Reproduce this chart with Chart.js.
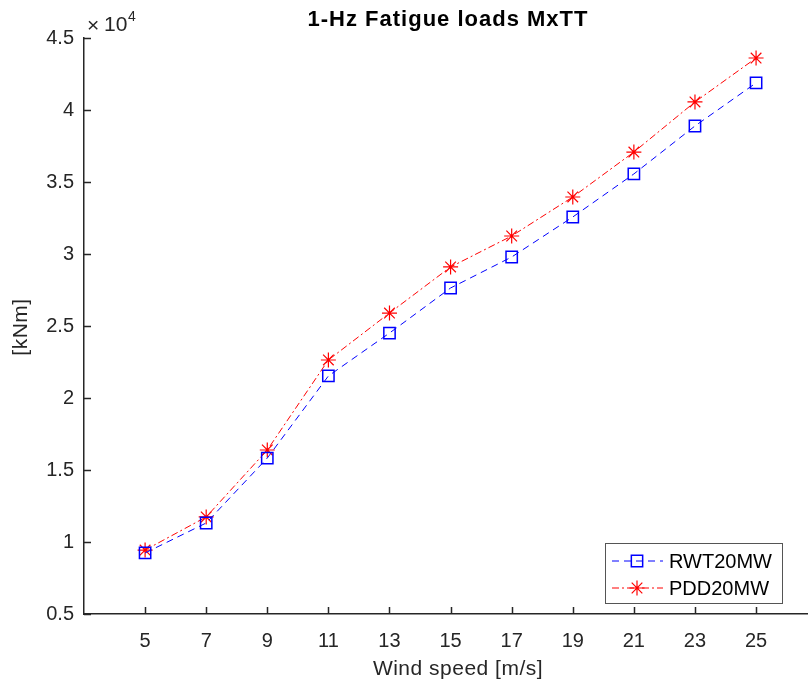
<!DOCTYPE html>
<html>
<head>
<meta charset="utf-8">
<script src="https://cdn.jsdelivr.net/npm/chart.js@4.4.0/dist/chart.umd.min.js"></script>
<style>
  html, body { margin: 0; padding: 0; background: #fff; }
</style>
</head>
<body>
<canvas id="chart" width="808" height="689"></canvas>
<script>
// ============================================================
// DATA
// ============================================================
const windSpeeds = [5, 7, 9, 11, 13, 15, 17, 19, 21, 23, 25];
const rwt20mw = [9240, 11320, 15830, 21530, 24510, 27640, 29790, 32570, 35560, 38890, 41880];
const pdd20mw = [9440, 11740, 16390, 22640, 25900, 29100, 31250, 33960, 37080, 40560, 43610];
const xTicks = [5, 7, 9, 11, 13, 15, 17, 19, 21, 23, 25];
const yTicks = [5000, 10000, 15000, 20000, 25000, 30000, 35000, 40000, 45000];
const yTickLabels = ['0.5', '1', '1.5', '2', '2.5', '3', '3.5', '4', '4.5'];

const FONT = "'Liberation Sans', Arial, Helvetica, sans-serif";
const AXIS = '#262626';

function toPoints(values) {
    return windSpeeds.map((w, i) => ({ x: w, y: values[i] }));
}

// ============================================================
// PLUGIN: inner ticks, texts, legend
// ============================================================
const decorPlugin = {
    id: 'decor',
    afterDraw(chart) {
        const ctx = chart.ctx;
        const xs = chart.scales.x;
        const ys = chart.scales.y;
        const area = chart.chartArea;

        // inner tick marks
        ctx.save();
        ctx.strokeStyle = AXIS;
        ctx.lineWidth = 1.5;
        ctx.beginPath();
        xTicks.forEach(v => {
            const px = Math.round(xs.getPixelForValue(v)) + 0.5;
            ctx.moveTo(px, area.bottom);
            ctx.lineTo(px, area.bottom - 7);
        });
        yTicks.forEach(v => {
            const py = Math.round(ys.getPixelForValue(v)) + 0.5;
            ctx.moveTo(area.left, py);
            ctx.lineTo(area.left + 7, py);
        });
        ctx.stroke();

        // title
        ctx.fillStyle = '#000';
        ctx.textAlign = 'center';
        ctx.textBaseline = 'middle';
        ctx.letterSpacing = '1px';
        ctx.font = 'bold 22px ' + FONT;
        ctx.fillText('1-Hz Fatigue loads MxTT', 448, 20);

        // axis titles
        ctx.fillStyle = AXIS;
        ctx.letterSpacing = '0.5px';
        ctx.font = '21px ' + FONT;
        ctx.fillText('Wind speed [m/s]', 458, 669);
        ctx.save();
        ctx.translate(21, 327);
        ctx.rotate(-Math.PI / 2);
        ctx.fillText('[kNm]', 0, 0);
        ctx.restore();
        ctx.letterSpacing = '0px';

        // exponent label
        ctx.textAlign = 'left';
        ctx.font = '21px ' + FONT;
        ctx.fillText('\u00d7', 87, 26);
        ctx.fillText('10', 104, 25);
        ctx.font = '14px ' + FONT;
        ctx.fillText('4', 128, 17);

        // legend
        const bx = 605, by = 543, bw = 177, bh = 60;
        ctx.fillStyle = '#fff';
        ctx.fillRect(bx, by, bw, bh);
        ctx.strokeStyle = '#555';
        ctx.lineWidth = 1;
        ctx.strokeRect(bx + 0.5, by + 0.5, bw, bh);

        chart.data.datasets.forEach((ds, i) => {
            const cy = by + 18 + i * 27;
            ctx.save();
            ctx.strokeStyle = ds.borderColor;
            ctx.lineWidth = ds.borderWidth;
            ctx.setLineDash(ds.borderDash);
            ctx.beginPath();
            ctx.moveTo(bx + 7, cy);
            ctx.lineTo(bx + 58, cy);
            ctx.stroke();
            ctx.setLineDash([]);
            ctx.lineWidth = ds.pointBorderWidth;
            ctx.fillStyle = 'rgba(0,0,0,0)';
            Chart.helpers.drawPoint(ctx, {
                pointStyle: ds.pointStyle,
                radius: ds.pointRadius,
                rotation: 0,
                borderWidth: ds.pointBorderWidth
            }, bx + 32, cy);
            ctx.restore();
            ctx.fillStyle = '#000';
            ctx.textAlign = 'left';
            ctx.textBaseline = 'middle';
            ctx.font = '20px ' + FONT;
            ctx.fillText(ds.label, bx + 64, cy + 1);
        });
        ctx.restore();
    }
};

// ============================================================
// CHART
// ============================================================
new Chart(document.getElementById('chart'), {
    type: 'line',
    data: {
        datasets: [
            {
                label: 'RWT20MW',
                data: toPoints(rwt20mw),
                borderColor: '#0000ff',
                borderWidth: 1,
                borderDash: [7, 5],
                pointStyle: 'rect',
                pointRadius: 8,
                pointBorderWidth: 1.5,
                pointBorderColor: '#0000ff',
                pointBackgroundColor: 'rgba(0,0,0,0)',
                tension: 0,
                fill: false
            },
            {
                label: 'PDD20MW',
                data: toPoints(pdd20mw),
                borderColor: '#ff0000',
                borderWidth: 1,
                borderDash: [7, 3, 2, 3],
                pointStyle: 'star',
                pointRadius: 7.5,
                pointBorderWidth: 1.2,
                pointBorderColor: '#ff0000',
                pointBackgroundColor: 'rgba(0,0,0,0)',
                tension: 0,
                fill: false
            }
        ]
    },
    options: {
        responsive: false,
        animation: false,
        layout: {
            autoPadding: false,
            padding: { top: 38, right: 0, bottom: 0, left: 0 }
        },
        plugins: {
            legend: { display: false },
            title: { display: false },
            tooltip: { enabled: false }
        },
        scales: {
            x: {
                type: 'linear',
                min: 3,
                max: 26.7,
                afterBuildTicks: scale => { scale.ticks = xTicks.map(v => ({ value: v })); },
                afterFit: scale => {
                    scale.height = 75;
                    scale.paddingLeft = 0;
                    scale.paddingRight = 0;
                },
                grid: { display: false, drawTicks: false },
                border: { display: true, color: AXIS, width: 1.5 },
                ticks: {
                    color: AXIS,
                    padding: 15,
                    maxRotation: 0,
                    font: { family: FONT, size: 20 }
                }
            },
            y: {
                min: 5000,
                max: 45000,
                afterBuildTicks: scale => { scale.ticks = yTicks.map(v => ({ value: v })); },
                afterFit: scale => {
                    scale.width = 84;
                    scale.paddingTop = 0;
                    scale.paddingBottom = 0;
                },
                grid: { display: false, drawTicks: false },
                border: { display: true, color: AXIS, width: 1.5 },
                ticks: {
                    color: AXIS,
                    padding: 10,
                    font: { family: FONT, size: 20 },
                    callback: (v) => yTickLabels[yTicks.indexOf(v)]
                }
            }
        }
    },
    plugins: [decorPlugin]
});
</script>
</body>
</html>
